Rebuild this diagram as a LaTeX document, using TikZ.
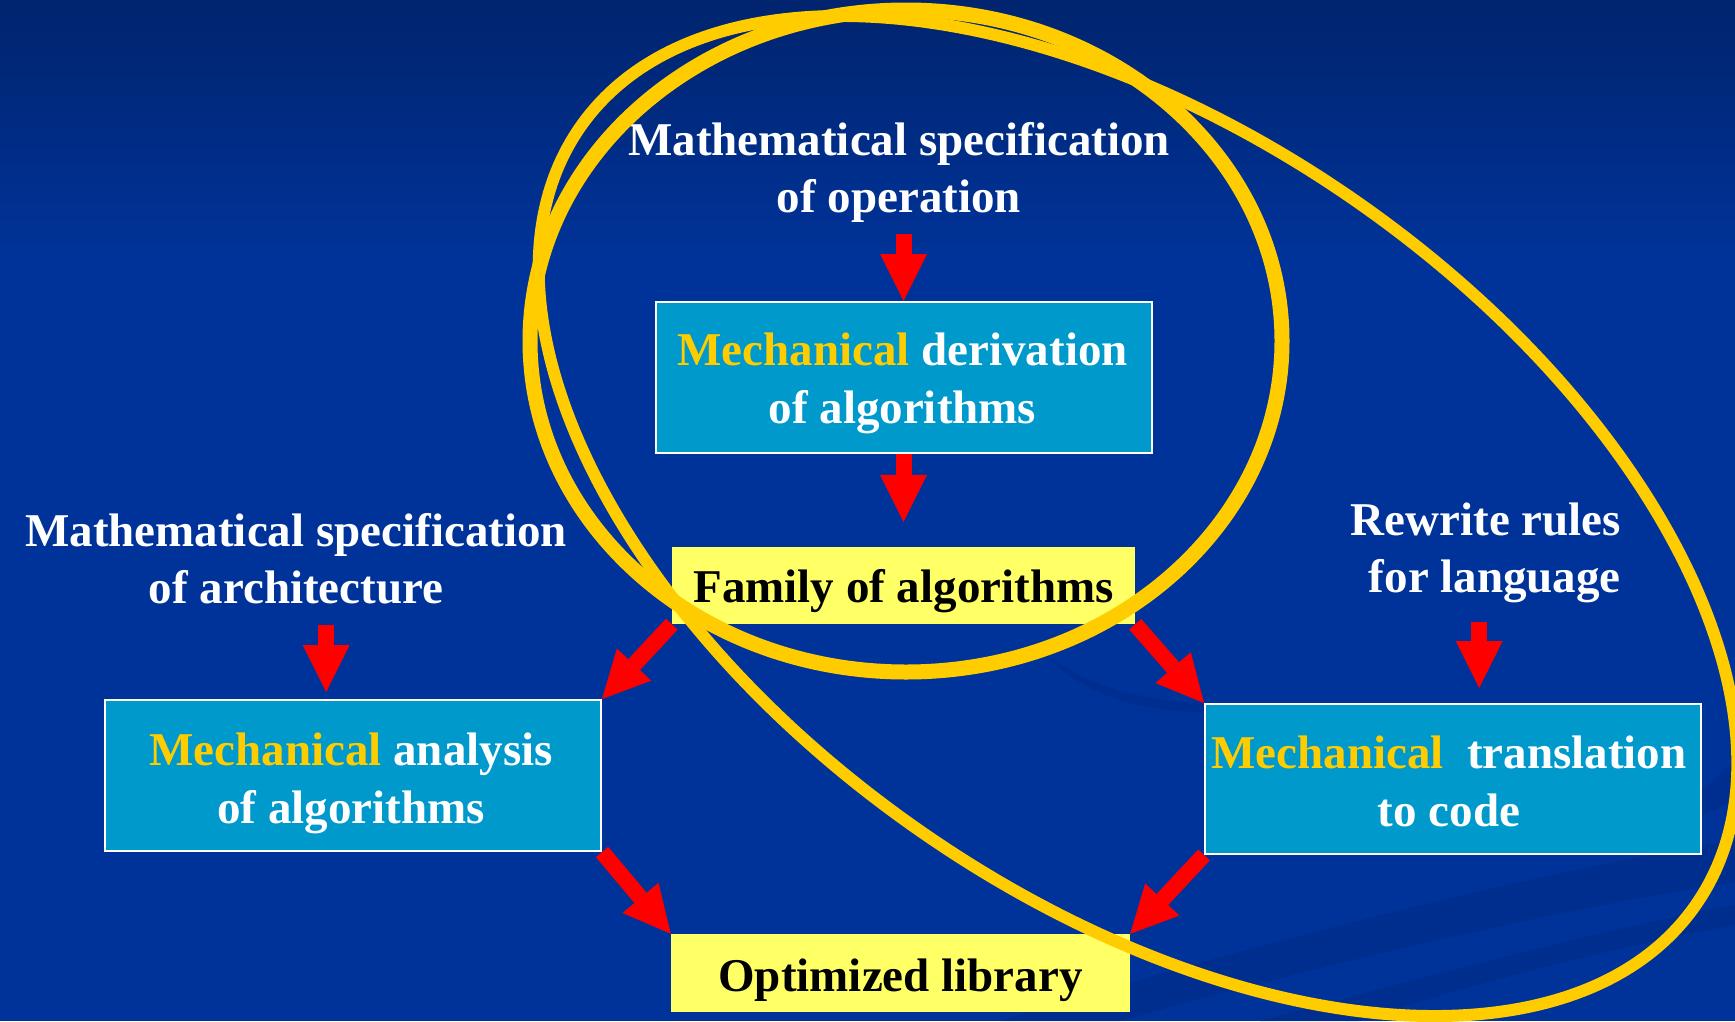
\documentclass[tikz,border=0pt]{standalone}
\usepackage{fontspec}
\setmainfont{Liberation Serif}
\usetikzlibrary{arrows.meta,calc}
\definecolor{bgtop}{RGB}{0,36,110}
\definecolor{bgmain}{RGB}{0,51,153}
\definecolor{swoosh}{RGB}{0,44,138}
\definecolor{boxblue}{RGB}{0,153,204}
\definecolor{boxyellow}{RGB}{255,255,102}
\definecolor{gold}{RGB}{255,204,0}
\definecolor{arrowred}{RGB}{255,0,0}
\newcommand{\mechword}{\textcolor{gold}{Mechanical}}
\begin{document}
\begin{tikzpicture}[x=1pt,y=-1pt,
  txt/.style={text=white,font=\fontsize{47}{57}\selectfont\bfseries,align=center,inner sep=0pt},
  boxtxt/.style={text=white,font=\fontsize{47}{58}\selectfont\bfseries,align=center,inner sep=0pt},
  bluebox/.style={draw=white,line width=2pt,fill=boxblue,minimum width=496pt,minimum height=151pt,inner sep=0pt},
  yellowbox/.style={fill=boxyellow,inner sep=0pt,text=black,font=\fontsize{47}{57}\selectfont\bfseries,text depth=10pt},
  redarrow/.style={draw=arrowred,line width=16pt,-{Triangle[width=47pt,length=47pt,line width=0pt]}},
  goldring/.style={draw=gold}]
\useasboundingbox (0,0) rectangle (1735,1021);
% background
\fill[bgmain] (0,0) rectangle (1735,1021);
\shade[top color=bgtop,bottom color=bgmain] (0,0) rectangle (1735,260);
\fill[swoosh,opacity=0.6] (1040,650) .. controls (1090,690) and (1150,700) .. (1205,704) -- (1205,712) .. controls (1140,712) and (1080,695) .. (1040,650) -- cycle;
\fill[swoosh,opacity=0.6] (1701,790) .. controls (1715,780) and (1725,770) .. (1735,760) -- (1735,800) .. controls (1722,808) and (1710,812) .. (1701,815) -- cycle;
\fill[swoosh,opacity=0.7] (1000,1021) .. controls (1300,930) and (1550,870) .. (1735,840) -- (1735,882) .. controls (1550,910) and (1300,970) .. (1120,1021) -- cycle;
\fill[swoosh,opacity=0.7] (1260,1021) .. controls (1450,970) and (1600,930) .. (1735,905) -- (1735,925) .. controls (1600,950) and (1450,990) .. (1360,1021) -- cycle;
% boxes
\node[bluebox] (deriv) at (903.5,377.5) {};
\node[yellowbox,minimum width=463pt,minimum height=77pt,text height=43pt] (family) at (903.5,585.5) {Family of algorithms};
\node[bluebox] (analysis) at (353,775.5) {};
\node[bluebox,minimum height=150pt] (transl) at (1453,779) {};
\node[yellowbox,minimum width=459pt,minimum height=78pt,text height=46pt] (library) at (900.5,973) {Optimized library};
% texts
\node[txt] (opspec) at (899,172.7) {Mathematical specification\\of operation};
\node[txt] (archspec) at (296,558.3) {Mathematical specification\\of architecture};
\node[txt,align=right,anchor=east] (rules) at (1621,552.7) {Rewrite rules\\for language};
\node[boxtxt] (derivtext) at ($(deriv.center)+(-1,6)$) {\mechword{} derivation\\of algorithms};
\node[boxtxt] (analysistext) at ($(analysis.center)+(-2,7.7)$) {\mechword{} analysis\\of algorithms};
\node[boxtxt] (transltext) at ($(transl.center)+(-4,2.2)$) {\mechword{}\ \ translation\\to code};
% helper coordinates for vertical arrows
\coordinate (mL) at ($(archspec.south)!0.53!(analysis.north)$);
\coordinate (mR) at ($(rules.south)!0.2!(transl.north)$);
% arrows
\draw[redarrow,shorten <=11pt] (deriv.north |- opspec.south) -- (deriv.north);
\draw[redarrow,shorten >=25pt] (deriv.south) -- (family.north);
\draw[redarrow,shorten <=21pt,shorten >=7pt] (mL |- archspec.south) -- (mL |- analysis.north);
\draw[redarrow,shorten <=19pt,shorten >=15pt] (mR |- rules.south) -- (mR |- transl.north);
\draw[redarrow] (family.south west) -- (analysis.north east);
\draw[redarrow] (family.south east) -- (transl.north west);
\draw[redarrow] (analysis.south east) -- (library.north west);
\draw[redarrow] (transl.south west) -- (library.north east);
% ellipses
\draw[goldring,line width=15pt] (906,341) ellipse [x radius=376pt,y radius=331pt];
\draw[goldring,line width=12pt,rotate around={-34.9:(1138,516)}] (1138,516) ellipse [x radius=680pt,y radius=383pt];
\end{tikzpicture}
\end{document}
